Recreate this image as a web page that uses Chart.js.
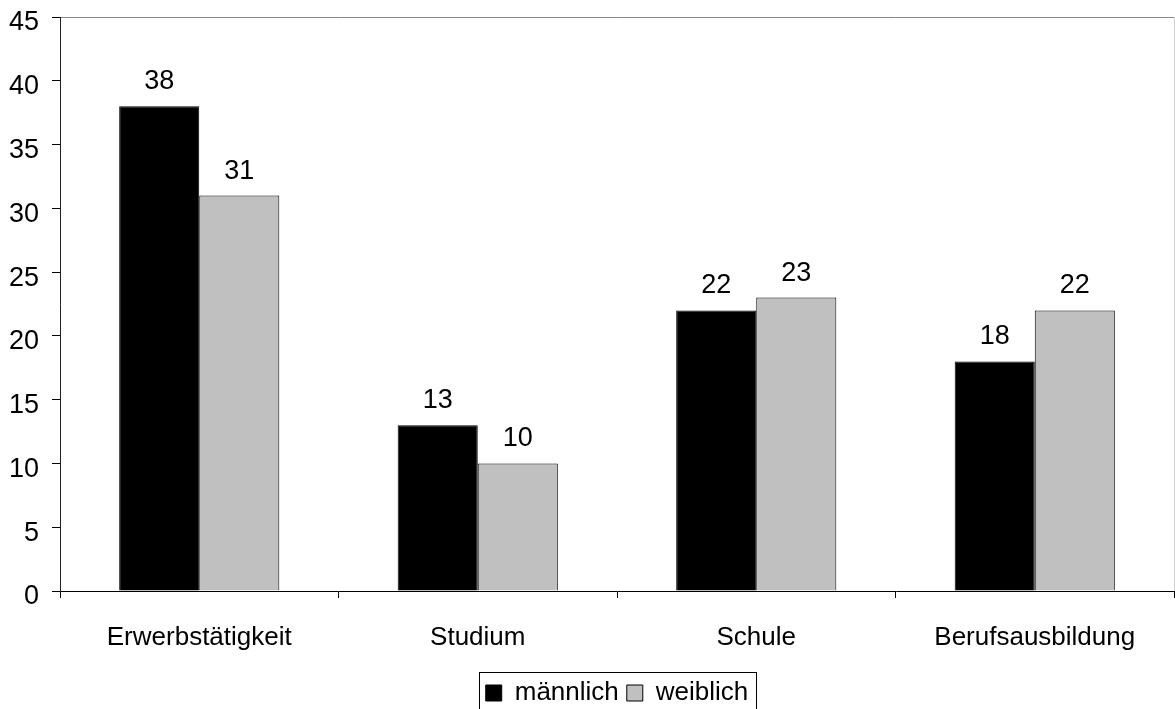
<!DOCTYPE html>
<html>
<head>
<meta charset="utf-8">
<script src="https://cdn.jsdelivr.net/npm/chart.js@4.4.0/dist/chart.umd.min.js"></script>
<style>
  html, body { margin: 0; padding: 0; background: #fff; }
  #wrap { width: 1175px; height: 709px; overflow: hidden; }
</style>
</head>
<body>
<div id="wrap">
  <canvas id="barChart" width="1175" height="720"></canvas>
</div>
<script>
// categories + series
const categories = ['Erwerbstätigkeit', 'Studium', 'Schule', 'Berufsausbildung'];
const maleValues = [38, 13, 22, 18];
const femaleValues = [31, 10, 23, 22];
const yTicks = [0, 5, 10, 15, 20, 25, 30, 35, 40, 45];

const fontFamily = 'Arial, "Liberation Sans", sans-serif';

// value labels above each bar
const valueLabels = {
    id: 'valueLabels',
    afterDatasetsDraw(chart) {
        const ctx = chart.ctx;
        ctx.save();
        ctx.font = '27px ' + fontFamily;
        ctx.fillStyle = '#000';
        ctx.textAlign = 'center';
        ctx.textBaseline = 'alphabetic';
        chart.data.datasets.forEach((ds, i) => {
            chart.getDatasetMeta(i).data.forEach((bar, j) => {
                ctx.fillText(ds.data[j], bar.x, bar.y - 17);
            });
        });
        ctx.restore();
    }
};

// legend sits a bit right of centre in the original, plus a frame round it
const legendFrame = {
    id: 'legendFrame',
    afterLayout(chart) {
        const lg = chart.legend;
        if (!lg) return;
        lg.left += 30;
        lg.right += 30;
    },
    afterDraw(chart) {
        const lg = chart.legend;
        if (!lg || !lg.legendHitBoxes.length) return;
        const boxes = lg.legendHitBoxes;
        const left = Math.min(...boxes.map(b => b.left)) - 7;
        const right = Math.max(...boxes.map(b => b.left + b.width)) + 7;
        const ctx = chart.ctx;
        ctx.save();
        ctx.strokeStyle = '#000';
        ctx.lineWidth = 1;
        ctx.strokeRect(Math.round(left) + 0.5, Math.round(lg.top) + 0.5, Math.round(right - left), 60);
        ctx.restore();
    }
};

const ctx = document.getElementById('barChart').getContext('2d');
new Chart(ctx, {
    type: 'bar',
    data: {
        labels: categories,
        datasets: [{
            label: 'männlich',
            data: maleValues,
            backgroundColor: '#000000',
            borderColor: '#000000',
            borderWidth: 1
        }, {
            label: 'weiblich',
            data: femaleValues,
            backgroundColor: '#c0c0c0',
            borderColor: '#000000',
            borderWidth: 1
        }]
    },
    options: {
        responsive: false,
        animation: false,
        events: [],
        layout: { padding: { top: 17, right: 1, left: 0, bottom: 4 } },
        datasets: {
            bar: { categoryPercentage: 0.575, barPercentage: 1.0 }
        },
        plugins: {
            legend: {
                position: 'bottom',
                labels: {
                    color: '#000',
                    font: { size: 26, family: fontFamily },
                    boxWidth: 16,
                    boxHeight: 16,
                    padding: 8
                }
            },
            tooltip: { enabled: false }
        },
        scales: {
            x: {
                afterFit: (scale) => {
                    scale.height = 81;
                    scale.paddingLeft = 0;
                    scale.paddingRight = 0;
                },
                grid: {
                    drawOnChartArea: true,
                    drawTicks: true,
                    tickLength: 7,
                    color: (c) => c.tick ? 'rgba(0,0,0,0)' : '#d0d0d0',
                    tickColor: '#000'
                },
                border: { display: true, color: '#000', width: 1 },
                ticks: {
                    color: '#000',
                    font: { size: 26, family: fontFamily },
                    padding: 24,
                    maxRotation: 0
                }
            },
            y: {
                min: 0,
                max: 45,
                afterFit: (scale) => {
                    scale.width = 60;
                    scale.paddingTop = 0;
                    scale.paddingBottom = 0;
                },
                afterBuildTicks: (scale) => { scale.ticks = yTicks.map(v => ({ value: v })); },
                grid: {
                    drawTicks: true,
                    tickLength: 8,
                    color: (c) => (c.tick && c.tick.value === 45) ? '#888888' : 'rgba(0,0,0,0)',
                    tickColor: '#000'
                },
                border: { display: true, color: '#222', width: 1 },
                ticks: {
                    color: '#000',
                    font: { size: 27, family: fontFamily },
                    padding: 13,
                    labelOffset: 6
                }
            }
        }
    },
    plugins: [valueLabels, legendFrame]
});
</script>
</body>
</html>
